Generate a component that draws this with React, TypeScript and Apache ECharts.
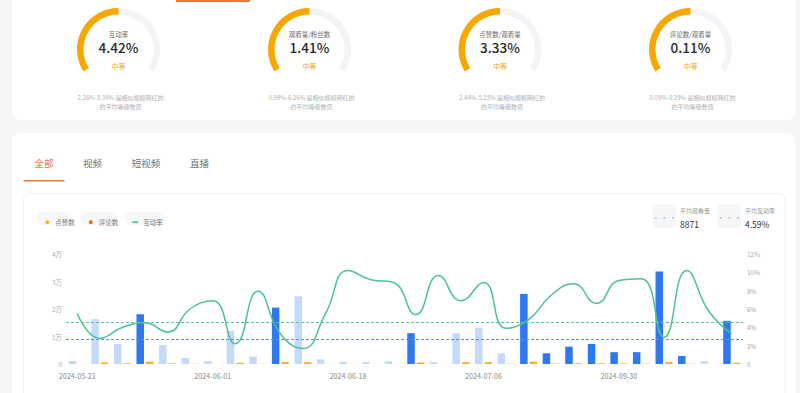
import React, { useEffect, useRef } from 'react';
import * as echarts from 'echarts';

const FONT = '"Noto Sans CJK SC", "Noto Sans", sans-serif';

// ---- gauge cards ----
const gaugeTitles = ['互动率', '观看量/粉丝数', '点赞数/观看量', '评论数/观看量'];
const gaugeValues = ['4.42%', '1.41%', '3.33%', '0.11%'];
const gaugeLevels = ['中等', '中等', '中等', '中等'];
const gaugeProgress = [50, 50, 50, 50];
const gaugeRanges = ['2.26%-5.39%', '0.99%-6.26%', '2.44%-5.15%', '0.09%-0.29%'];

// ---- tabs ----
const tabs = ['全部', '视频', '短视频', '直播'];

// ---- main chart ----
const categories = [
  '2024-05-21', '2024-05-22', '2024-05-24', '2024-05-25', '2024-05-27', '2024-05-29',
  '2024-06-01', '2024-06-03', '2024-06-05', '2024-06-08', '2024-06-11', '2024-06-14',
  '2024-06-18', '2024-06-20', '2024-06-23', '2024-06-26', '2024-06-29', '2024-07-02',
  '2024-07-06', '2024-07-15', '2024-07-28', '2024-08-10', '2024-08-25', '2024-09-12',
  '2024-09-30', '2024-10-08', '2024-10-15', '2024-10-22', '2024-10-28', '2024-11-02',
];
const viewCounts = [
  1100, 16300, 7300, 18100, 6900, 2200, 1000, 12100, 2700, 20500,
  24600, 1700, 800, 700, 1000, 11200, 700, 11200, 13200, 3900,
  25500, 3900, 6300, 7300, 4300, 4300, 33600, 2900, 1000, 15700,
];
const contentKind = [
  's', 's', 's', 'v', 's', 's', 's', 's', 's', 'v',
  's', 's', 's', 's', 's', 'v', 's', 's', 's', 's',
  'v', 'v', 'v', 'v', 'v', 'v', 'v', 'v', 's', 'v',
];
const likeCounts = [
  40, 560, 260, 820, 240, 70, 30, 420, 90, 680,
  640, 50, 25, 25, 35, 560, 20, 640, 700, 110,
  830, 160, 280, 260, 200, 150, 650, 140, 20, 400,
];
const commentCounts = [
  2, 18, 8, 20, 7, 3, 1, 13, 3, 22,
  26, 2, 1, 1, 1, 12, 1, 12, 14, 4,
  28, 4, 7, 8, 5, 5, 37, 3, 1, 17,
];
const engagementRate = [
  5.5, 2.8, 4.0, 4.5, 3.5, 6.0, 6.9, 2.2, 7.95, 3.3,
  1.7, 5.5, 10.2, 9.2, 8.9, 5.4, 9.65, 6.9, 8.9, 3.9,
  4.85, 7.5, 8.75, 6.6, 9.1, 9.3, 2.9, 10.2, 5.7, 3.3,
];
const avgViews = 8871;
const avgRate = 4.59;

const DARK_BLUE = '#2f78f4';
const LIGHT_BLUE = '#c6d9fb';
const ORANGE = '#f5a800';

function buildOption() {
  const gaugeCx = [118.5, 309.5, 500, 690.5];
  const gaugeCy = 49.5;

  const gaugeSeries = gaugeTitles.map((t, i) => ({
    type: 'gauge',
    center: [gaugeCx[i], gaugeCy],
    radius: 41.5,
    startAngle: 212,
    endAngle: -32,
    min: 0,
    max: 100,
    progress: { show: true, width: 6.5, itemStyle: { color: ORANGE } },
    axisLine: { lineStyle: { width: 6.5, color: [[1, '#f3f4f7']] } },
    pointer: { show: false },
    anchor: { show: false },
    axisTick: { show: false },
    splitLine: { show: false },
    axisLabel: { show: false },
    title: { offsetCenter: [0, -16], fontSize: 6.5, color: '#666', fontFamily: FONT },
    detail: {
      offsetCenter: [0, -2.5],
      fontSize: 13.5,
      fontWeight: 500,
      color: '#2a2a2a',
      fontFamily: FONT,
      formatter: () => gaugeValues[i],
    },
    data: [{ value: gaugeProgress[i], name: t }],
  }));

  const graphic: any[] = [];
  // top card
  graphic.push({ type: 'rect', shape: { x: 12, y: -12, width: 783, height: 132, r: 8 }, style: { fill: '#fff' } });
  graphic.push({ type: 'rect', shape: { x: 176, y: 0, width: 74, height: 2 }, style: { fill: '#ea7a3f' } });
  gaugeTitles.forEach((_, i) => {
    graphic.push({
      type: 'text', x: gaugeCx[i], y: 66,
      style: { text: gaugeLevels[i], fill: '#e8a817', fontSize: 7, fontFamily: FONT, textAlign: 'center', textVerticalAlign: 'middle' },
    });
    graphic.push({
      type: 'text', x: gaugeCx[i] + 2, y: 97.5,
      style: { text: gaugeRanges[i] + ' 是相似规模网红的', fill: '#b0b0b0', fontSize: 6, fontFamily: FONT, textAlign: 'center', textVerticalAlign: 'middle' },
    });
    graphic.push({
      type: 'text', x: gaugeCx[i] + 2, y: 106.7,
      style: { text: '的平均等级数值', fill: '#b0b0b0', fontSize: 6, fontFamily: FONT, textAlign: 'center', textVerticalAlign: 'middle' },
    });
  });
  // second card
  graphic.push({ type: 'rect', shape: { x: 12, y: 133, width: 783, height: 300, r: 8 }, style: { fill: '#fff' } });
  const tabX = [44, 92.5, 146, 199.5];
  tabs.forEach((t, i) => {
    graphic.push({
      type: 'text', x: tabX[i], y: 163.3,
      style: { text: t, fill: i === 0 ? '#e4773a' : '#707070', fontSize: 9.5, fontFamily: FONT, textAlign: 'center', textVerticalAlign: 'middle' },
    });
  });
  graphic.push({ type: 'rect', shape: { x: 23.5, y: 180, width: 41, height: 1.6 }, style: { fill: '#e4773a' } });
  // inner panel
  graphic.push({ type: 'rect', shape: { x: 23.5, y: 193.5, width: 761.5, height: 260, r: 6 }, style: { fill: '#fff', stroke: '#f0f1f4', lineWidth: 1 } });
  // legend pills
  [[36, 36], [80, 36.7], [124, 41]].forEach(([x, w]) => {
    graphic.push({ type: 'rect', shape: { x, y: 211.5, width: w, height: 13.5, r: 6.75 }, style: { fill: '#f6f7f9' } });
  });
  // stats boxes
  const statBoxX = [652.5, 717.5];
  const statLabels = ['平均观看量', '平均互动率'];
  const statValues = [String(avgViews), avgRate + '%'];
  statBoxX.forEach((x, i) => {
    graphic.push({ type: 'rect', shape: { x, y: 204.5, width: 23.5, height: 23.5, r: 4 }, style: { fill: '#f5f6f8' } });
    graphic.push({
      type: 'text', x: x + 11.75, y: 217,
      style: { text: '· · ·', fill: '#9aa6ba', fontSize: 7, fontFamily: FONT, textAlign: 'center', textVerticalAlign: 'middle' },
    });
    graphic.push({
      type: 'text', x: x + 27.5, y: 210.5,
      style: { text: statLabels[i], fill: '#999', fontSize: 6, fontFamily: FONT, textAlign: 'left', textVerticalAlign: 'middle' },
    });
    graphic.push({
      type: 'text', x: x + 27.5, y: 224.3,
      style: { text: statValues[i], fill: '#333', fontSize: 8.5, fontFamily: FONT, textAlign: 'left', textVerticalAlign: 'middle' },
    });
  });

  return {
    animation: false,
    backgroundColor: '#f5f6f8',
    textStyle: { fontFamily: FONT },
    graphic: { elements: graphic },
    legend: {
      left: 40.3,
      top: 214,
      itemWidth: 6,
      itemHeight: 4,
      itemGap: 14,
      textStyle: { fontSize: 6.5, color: '#777', fontFamily: FONT },
      data: [
        { name: '点赞数', icon: 'circle' },
        { name: '评论数', icon: 'circle' },
        { name: '互动率', icon: 'path://M0,0H7V2H0Z' },
      ],
    },
    grid: { left: 66, right: 57, top: 254, bottom: 29 },
    xAxis: {
      type: 'category',
      data: categories,
      axisLine: { show: false },
      axisTick: { show: false },
      axisLabel: { interval: 5, color: '#a0a0a0', fontSize: 7, fontWeight: 500, margin: 8, fontFamily: FONT },
    },
    yAxis: [
      {
        type: 'value', min: 0, max: 40000, interval: 10000,
        splitLine: { show: false }, axisLine: { show: false }, axisTick: { show: false },
        axisLabel: { color: '#aaa', fontSize: 6.5, margin: 4, formatter: (v: number) => (v === 0 ? '0' : v / 10000 + '万') },
      },
      {
        type: 'value', min: 0, max: 12, interval: 2,
        splitLine: { show: false }, axisLine: { show: false }, axisTick: { show: false },
        axisLabel: { color: '#aaa', fontSize: 6.5, margin: 4, formatter: (v: number) => (v === 0 ? '0' : v + '%') },
      },
    ],
    series: [
      ...gaugeSeries,
      {
        name: '观看量',
        type: 'bar',
        yAxisIndex: 0,
        barWidth: 7.5,
        barGap: '27%',
        data: viewCounts.map((v, i) => ({ value: v, itemStyle: { color: contentKind[i] === 'v' ? DARK_BLUE : LIGHT_BLUE } })),
        markLine: {
          silent: true,
          symbol: 'none',
          label: { show: false },
          lineStyle: { type: [3, 2], color: '#5a8ee0', width: 1 },
          data: [{ yAxis: avgViews }],
        },
      },
      {
        name: '点赞数', type: 'bar', stack: 'eng', yAxisIndex: 0, barWidth: 7.5,
        itemStyle: { color: '#f3b22c' }, data: likeCounts,
      },
      {
        name: '评论数', type: 'bar', stack: 'eng', yAxisIndex: 0, barWidth: 7.5,
        itemStyle: { color: '#e8700f' }, data: commentCounts,
      },
      {
        name: '互动率', type: 'line', yAxisIndex: 1, smooth: true, showSymbol: false,
        lineStyle: { color: '#4cc294', width: 1.5 }, itemStyle: { color: '#4cc294' },
        data: engagementRate,
        markLine: {
          silent: true,
          symbol: 'none',
          label: { show: false },
          lineStyle: { type: [3, 2], color: '#4cc9a0', width: 1 },
          data: [{ yAxis: avgRate }],
        },
      },
    ],
  };
}

export default function App() {
  const ref = useRef<HTMLDivElement>(null);
  useEffect(() => {
    const chart = echarts.init(ref.current as HTMLDivElement, null, { renderer: 'svg' });
    chart.setOption(buildOption() as any);
    return () => chart.dispose();
  }, []);
  return <div ref={ref} style={{ position: 'fixed', left: 0, top: 0, width: 800, height: 393 }} />;
}
